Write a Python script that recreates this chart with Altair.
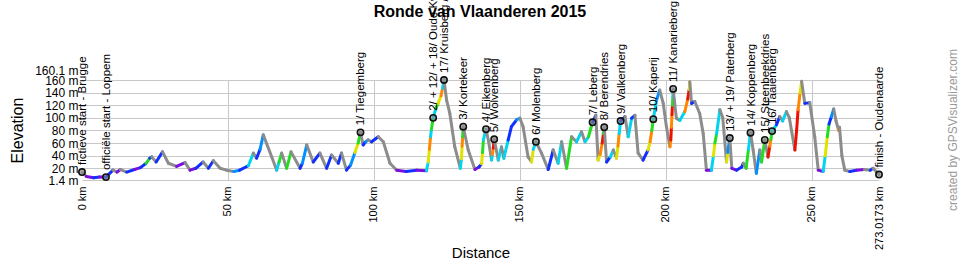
import altair as alt
import pandas as pd

# ---- elevation profile (km, m) and gradient class of the segment ending at each point ----
dist_km = [
    0, 1.5, 4, 6, 8.2, 10.6, 12, 13.2, 15.3, 18,
    20, 22, 23.2, 23.9, 25.4, 27.6, 29.6, 32.4, 35.3, 37,
    39, 41.5, 43.3, 45, 47.3, 49.5, 52, 54, 57, 58.7,
    59.8, 61, 62.1, 65, 66.7, 67.5, 68.4, 70.1, 71.6, 74.7,
    75.5, 77, 79.2, 81.5, 83.8, 85.5, 87.8, 88.9, 90.6, 92,
    93.5, 94.6, 95.4, 96.3, 97.2, 98, 99.2, 101.5, 103.2, 105.5,
    107.8, 111, 114.6, 118, 118.6, 119, 119.4, 119.7, 120.3, 121.2,
    122, 123, 123.5, 124, 124.9, 126, 127.7, 129.6, 130, 130.2,
    130.4, 130.6, 132.3, 134.6, 136, 136.9, 137.2, 137.5, 138.4, 139.3,
    140.3, 140.6, 140.9, 141.2, 142.6, 143.7, 144.5, 146, 147.1, 148.9,
    150, 151.1, 152.8, 154, 154.6, 155.5, 157.4, 159.7, 161.4, 163.1,
    164.3, 166, 167.7, 169.4, 171.1, 172.3, 173.5, 174.9, 176, 176.8,
    177.5, 178.2, 178.6, 178.9, 179.7, 181, 182, 183.1, 183.6, 184,
    184.5, 186, 187.1, 188.3, 189.4, 190.5, 192.2, 193.9, 194.6, 195.2,
    195.7, 196.8, 197.9, 199.1, 200.2, 201.4, 201.7, 201.9, 202.1, 202.25,
    202.4, 202.5, 203.6, 204.8, 206.5, 207.5, 208, 208.2, 208.8, 209.9,
    211.6, 212.8, 213.9, 215.6, 216.3, 216.8, 217.4, 218.5, 219.5, 220.8,
    221.2, 221.9, 222.6, 224.2, 226, 226.5, 227.5, 228.3, 229, 229.9,
    231, 232.2, 232.8, 233.9, 235, 235.6, 236, 236.4, 237.9, 239,
    240, 241.3, 242.3, 244.2, 244.8, 245.3, 246, 246.5, 247.6, 249.3,
    251, 252.2, 253.9, 254.6, 255.3, 255.9, 256.7, 257.5, 258.3, 259.2,
    259.5, 260.3, 261.3, 263, 265.3, 268, 270, 271, 273.0173,
]
elev_m = [
    14, 7, 5, 6, 6, 17, 14, 18, 14, 18,
    21, 28, 36, 38, 30, 46, 28, 23, 29, 17,
    20, 30, 20, 32, 20, 17, 15, 17, 24, 44,
    36, 50, 73, 38, 17, 30, 44, 20, 46, 20,
    28, 57, 30, 44, 20, 41, 28, 44, 17, 25,
    45, 60, 77, 57, 62, 65, 62, 70, 62, 28,
    17, 15, 17, 16, 30, 50, 70, 82, 100, 115,
    123, 135, 147, 160.1, 128, 107, 54, 20, 35, 55,
    70, 86, 49, 18, 22, 27, 45, 65, 82, 62,
    33, 42, 52, 66, 33, 54, 36, 65, 86, 97,
    99.5, 86, 38, 30, 50, 62, 44, 18, 49, 28,
    62, 20, 70, 62, 78, 62, 70, 93, 104, 33,
    42, 60, 75, 85, 30, 38, 49, 36, 55, 75,
    95, 102, 70, 99.5, 104, 44, 33, 49, 62, 80,
    98, 128, 144, 123, 86, 54, 65, 85, 105, 120,
    133, 146, 99.5, 96, 110, 130, 145, 157.5, 123, 126,
    107, 75, 17, 17, 40, 60, 75, 113, 100, 30,
    45, 68, 20, 17, 22, 28, 20, 50, 76.5, 49,
    12, 49, 30, 65, 38, 55, 66, 79, 89, 102,
    95, 110, 100, 49, 80, 113, 140, 158, 123, 124,
    70, 17, 15, 40, 70, 90, 102, 114, 95, 80,
    85, 40, 17, 15, 17, 18, 17, 20, 10,
]
grade_cls = [
    "flat", "down", "flat", "blue", "flat", "blue", "down", "flat", "down", "blue",
    "flat", "blue", "green", "blue", "down", "blue", "down", "down", "flat", "down",
    "flat", "blue", "down", "blue", "down", "down", "down", "azure", "blue", "cyan",
    "down", "blue", "azure", "down", "down", "cyan", "green", "down", "green", "down",
    "blue", "azure", "down", "blue", "down", "blue", "down", "blue", "down", "blue",
    "azure", "yellow", "green", "down", "blue", "azure", "down", "blue", "down", "down",
    "down", "flat", "blue", "flat", "cyan", "yellow", "orange", "cyan", "green", "cyan",
    "green", "yellow", "orange", "cyan", "down", "down", "down", "down", "cyan", "yellow",
    "orange", "green", "down", "down", "flat", "blue", "yellow", "green", "cyan", "down",
    "down", "cyan", "orange", "red", "down", "cyan", "down", "cyan", "blue", "blue",
    "azure", "down", "down", "down", "yellow", "cyan", "down", "down", "blue", "down",
    "cyan", "down", "green", "down", "cyan", "down", "cyan", "green", "blue", "down",
    "yellow", "orange", "red", "green", "down", "blue", "cyan", "down", "yellow", "orange",
    "cyan", "blue", "down", "cyan", "blue", "down", "down", "blue", "yellow", "orange",
    "green", "cyan", "azure", "down", "down", "down", "orange", "red", "orange", "red",
    "green", "cyan", "down", "down", "cyan", "orange", "red", "yellow", "down", "blue",
    "down", "down", "down", "flat", "cyan", "yellow", "green", "cyan", "down", "down",
    "yellow", "azure", "down", "flat", "blue", "blue", "down", "green", "cyan", "down",
    "down", "azure", "down", "green", "down", "red", "orange", "green", "cyan", "blue",
    "down", "cyan", "down", "down", "red", "red", "orange", "yellow", "down", "blue",
    "down", "down", "flat", "cyan", "yellow", "green", "blue", "azure", "down", "down",
    "orange", "down", "down", "down", "blue", "flat", "down", "blue", "down",
]
assert len(dist_km) == len(elev_m) == len(grade_cls)

# ---- waypoints (climbs) ----
climb_km = [0, 8.2, 95.4, 120.3, 124, 130.6, 138.4, 141.2, 155.5, 174.9,
            178.9, 184.5, 195.7, 202.5, 221.9, 229, 233.9, 236.4, 273.0173]
climb_m = [14, 6, 77, 100, 160.1, 86, 82, 66, 62, 93,
           85, 95, 98, 146, 68, 76.5, 65, 79, 10]
climb_name = [
    "fictieve start - Brugge", "officiële start - Loppem", "1/ Tiegemberg",
    "2/ + 12/ + 18/ Oude Kwaremont", "17/ Kruisberg / Hotond", "3/ Kortekeer",
    "4/ Eikenberg", "5/ Wolvenberg", "6/ Molenberg", "7/ Leberg",
    "8/ Berendries", "9/ Valkenberg", "10/ Kaperij", "11/ Kanarieberg",
    "13/ + 19/ Paterberg", "14/ Koppenberg", "15/ Steenbeekdries",
    "16/ Taaienberg", "finish - Oudenaarde",
]

x_ticks = [0, 50, 100, 150, 200, 250, 273.0173]
y_ticks = [1.4, 20, 40, 60, 80, 100, 120, 140, 160, 160.1]

grade_classes = ["down", "flat", "blue", "azure", "cyan", "green", "yellow", "orange", "red"]
grade_colors = ["#8c8c8c", "#7a10e0", "#1030ff", "#0090ff", "#00d4ee",
                "#22dd22", "#e2e200", "#ff8800", "#ee1100"]

FONT = "Liberation Sans"

seg = pd.DataFrame({
    "x": dist_km[:-1], "x2": dist_km[1:],
    "y": elev_m[:-1], "y2": elev_m[1:],
    "g": grade_cls[1:],
})
pts = pd.DataFrame({"x": climb_km, "y": climb_m, "name": climb_name})

xscale = alt.Scale(domain=[0, 273.0173], nice=False, zero=False)
yscale = alt.Scale(domain=[1.4, 160.1], nice=False, zero=False)

x_axis = alt.Axis(
    values=x_ticks, labelExpr="datum.value + ' km'", labelAngle=270,
    labelAlign="right", labelBaseline="middle", labelPadding=6,
    labelFontSize=11, labelFont=FONT, labelColor="black", labelFlush=False,
    labelOverlap=False, ticks=False, domain=False, grid=True,
    gridColor="#c8c8c8",
    gridOpacity=alt.condition("datum.value > 0 && datum.value < 273", alt.value(1), alt.value(0)),
    title="Distance", titleFont=FONT, titleFontSize=15, titleFontWeight="normal",
    titleColor="black", titleY=72, titleBaseline="middle",
)
y_axis = alt.Axis(
    values=y_ticks, labelExpr="datum.value + ' m'", labelFontSize=12,
    labelFont=FONT, labelColor="black", labelPadding=4, labelOverlap=False,
    labelOffset=alt.condition("datum.value == 160.1", alt.value(-10), alt.value(0)),
    ticks=False, domain=False, grid=True, gridColor="#c8c8c8",
    title="Elevation", titleFont=FONT, titleFontSize=16, titleFontWeight="normal",
    titleColor="black", titleAngle=270, titleX=-65, titleY=50,
    titleAlign="center", titleBaseline="middle",
)

X = alt.X("x:Q", scale=xscale, axis=x_axis)
Y = alt.Y("y:Q", scale=yscale, axis=y_axis)

profile = alt.Chart(seg).mark_rule(strokeWidth=3, strokeCap="round").encode(
    x=X, x2="x2:Q", y=Y, y2="y2:Q",
    color=alt.Color("g:N", scale=alt.Scale(domain=grade_classes, range=grade_colors), legend=None),
)

markers = alt.Chart(pts).mark_point(
    shape="circle", filled=False, fill="#8a8a8a", fillOpacity=0.55,
    stroke="#111111", strokeWidth=1.6, size=40, opacity=1,
).encode(x=X, y=Y)

labels = alt.Chart(pts).mark_text(
    angle=270, align="left", baseline="middle", dx=7, dy=1,
    fontSize=11.5, font=FONT, color="black",
).encode(x=X, y=Y, text="name:N")

title_txt = alt.Chart(pd.DataFrame({"t": ["Ronde van Vlaanderen 2015"]})).mark_text(
    align="center", baseline="middle", fontSize=16, fontWeight="bold", font=FONT, color="black",
).encode(x=alt.value(398), y=alt.value(-68), text="t:N")

credit = alt.Chart(pd.DataFrame({"t": ["created by GPSVisualizer.com"]})).mark_text(
    angle=270, align="center", baseline="middle", fontSize=12, font=FONT, color="#9a9a9a",
).encode(x=alt.value(871), y=alt.value(50), text="t:N")

chart = alt.layer(profile, markers, labels, title_txt, credit).properties(
    width=797, height=100,
    autosize=alt.AutoSizeParams(type="none"),
    padding={"left": 82, "top": 80, "right": 81, "bottom": 80},
).configure_view(stroke=None)

chart.save("out.html", embed_options={"renderer": "svg", "actions": False})
